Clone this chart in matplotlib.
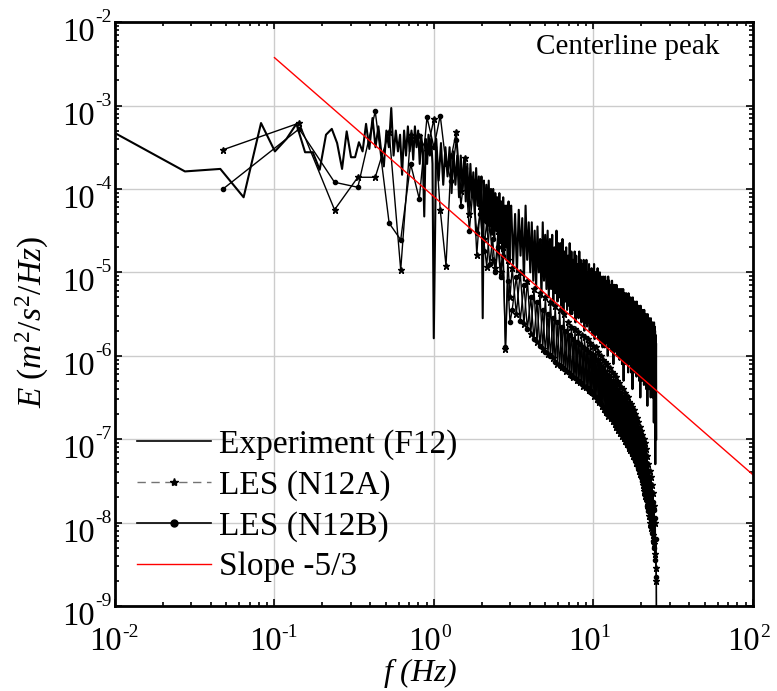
import numpy as np
import matplotlib
matplotlib.use("Agg")
import matplotlib.pyplot as plt
from matplotlib.lines import Line2D
from matplotlib.ticker import LogLocator, NullFormatter

plt.rcParams['font.family'] = ['Liberation Serif', 'DejaVu Serif']
plt.rcParams['mathtext.fontset'] = 'custom'
plt.rcParams['mathtext.rm'] = 'Liberation Serif'
plt.rcParams['mathtext.it'] = 'Liberation Serif:italic'

# Experiment (F12): log10 E, three frequency blocks
exp_f0 = [0.00915, 1.0335, 3.05]
exp_df = [0.0183, 0.0366, 0.088]
exp_seg1 = [-3.29, -3.79, -3.76, -4.10, -3.21, -3.55, -3.40, -3.22, -3.56, -3.56,
            -3.77, -3.35, -3.28, -3.45, -3.76, -3.31, -3.62, -3.62, -3.44, -3.55,
            -3.22, -3.52, -3.15, -3.50, -3.25, -3.55, -3.73, -3.30, -3.50, -3.03,
            -3.60, -3.30, -3.55, -3.35, -3.83, -3.30, -3.60, -3.25, -3.55, -3.30,
            -3.65, -3.25, -3.50, -3.30, -3.70, -3.35, -3.60, -4.33, -3.40, -3.70,
            -3.35, -3.60, -3.40, -3.70, -5.79]
exp_seg2 = [-3.40, -3.90, -3.45, -3.95, -3.50, -3.85, -3.50, -4.05, -3.55, -3.95,
            -3.60, -4.10, -3.60, -4.00, -3.65, -4.15, -3.70, -4.20, -3.70, -4.10,
            -3.80, -4.30, -3.75, -4.20, -3.85, -4.35, -3.85, -5.55, -3.90, -4.40,
            -3.95, -4.50, -3.90, -4.45, -4.00, -4.55, -4.00, -4.60, -4.05, -4.50,
            -4.10, -4.70, -4.05, -4.65, -4.15, -4.75, -4.10, -4.80, -4.20, -4.70,
            -4.20, -4.85, -4.15, -4.90, -4.25]
exp_seg3 = [-4.2, -4.9, -4.3, -5.0, -4.25, -4.8, -4.35, -5.1, -4.2, -4.85, -4.4, -5.0,
            -4.4, -5.1, -4.5, -5.2, -4.45, -5.0, -4.6, -5.3, -4.4, -5.1, -4.55, -5.2,
            -4.5, -5.3, -4.6, -5.2, -4.55, -5.4, -4.7, -5.25, -4.5, -5.35, -4.65, -5.3,
            -4.65, -5.4, -4.6, -5.5, -4.75, -5.35, -4.7, -5.45, -4.8, -5.4, -4.65, -5.5,
            -4.75, -5.5, -4.85, -5.45, -4.75, -5.6, -4.8, -5.5, -4.9, -5.55, -4.75, -5.5,
            -4.85, -5.6, -4.9, -5.55, -4.85, -5.7, -4.95, -5.6, -4.85, -5.65, -5.0, -5.6,
            -4.9, -5.7, -5.0, -5.65, -4.95, -5.75, -5.05, -5.7, -4.9, -5.8, -5.0, -5.7,
            -5.0, -5.75, -4.95, -5.8, -5.1, -5.7, -5.0, -5.85, -5.05, -5.75, -5.1, -5.9,
            -5.05, -5.8, -5.1, -5.9, -5.05, -5.85, -5.15, -5.8, -5.1, -6.0, -5.05, -5.85,
            -5.1, -5.9, -5.15, -5.85, -5.2, -5.95, -5.1, -5.9, -5.25, -6.1, -5.15, -5.9,
            -5.15, -5.95, -5.2, -5.9, -5.15, -6.0, -5.25, -5.95, -5.2, -5.9, -5.3, -6.05,
            -5.2, -6.0, -5.25, -5.95, -5.2, -6.1, -5.3, -6.0, -5.2, -6.3, -5.25, -6.0,
            -5.25, -6.0, -5.3, -6.1, -5.25, -6.05, -5.35, -6.0, -5.3, -6.2, -5.25, -6.05,
            -5.3, -6.1, -5.35, -6.05, -5.3, -6.2, -5.4, -6.1, -5.35, -6.4, -5.3, -6.1,
            -5.35, -6.1, -5.4, -6.2, -5.35, -6.15, -5.45, -6.1, -5.4, -6.25, -5.35, -6.15,
            -5.4, -6.2, -5.45, -6.15, -5.4, -6.3, -5.5, -6.2, -5.45, -6.5, -5.4, -6.2,
            -5.45, -6.2, -5.5, -6.3, -5.45, -6.25, -5.55, -6.2, -5.5, -6.35, -5.45, -6.25,
            -5.5, -6.3, -5.55, -6.25, -5.5, -6.4, -5.6, -6.3, -5.55, -6.6, -5.5, -6.3,
            -5.55, -6.3, -5.6, -6.4, -5.55, -6.35, -5.65, -6.3, -5.6, -6.5, -5.55, -6.35,
            -5.6, -6.4, -5.65, -6.35, -5.6, -6.5, -5.7, -6.4, -5.65, -6.8, -5.6, -6.4,
            -5.65, -6.5, -5.7, -7.3, -5.75, -6.6, -5.85, -7.0]

# LES spectra: log10 E, low block on the native grid, high block every other bin
les_f0 = [0.0476, 3.094]
les_df = [0.0952, 0.1904]
n12a_low = [-3.53, -3.21, -4.25, -3.86, -3.86, -3.32, -4.97, -3.35, -3.37, -3.55,
            -3.16, -4.25, -4.92, -3.61, -3.32, -4.03, -3.63, -4.30, -3.90, -4.79,
            -4.20, -4.60, -4.93, -4.40, -4.85, -4.95, -4.50, -5.00, -4.70, -5.92,
            -4.85, -5.30]
n12b_low = [-4.00, -3.28, -3.92, -3.98, -3.07, -4.41, -4.61, -3.70, -4.12, -3.14,
            -3.50, -3.12, -3.70, -3.90, -3.41, -4.20, -3.75, -4.50, -4.00, -4.53,
            -4.30, -4.75, -4.40, -4.90, -4.60, -5.00, -4.70, -5.05, -4.80, -5.90,
            -5.10, -5.60]
n12a_high = [-4.95, -5.5, -5.0, -5.62, -5.1, -5.74, -5.2, -5.84, -5.25, -5.92,
             -5.3, -5.98, -5.35, -6.03, -5.4, -6.1, -5.45, -6.13, -5.5, -6.18,
             -5.6, -6.22, -5.65, -6.25, -5.68, -6.29, -5.72, -6.32, -5.75, -6.36,
             -5.78, -6.38, -5.8, -6.41, -5.85, -6.44, -5.88, -6.48, -5.9, -6.52,
             -5.95, -6.56, -6.0, -6.6, -6.05, -6.64, -6.08, -6.68, -6.1, -6.72,
             -6.15, -6.75, -6.2, -6.78, -6.22, -6.82, -6.25, -6.85, -6.3, -6.89,
             -6.33, -6.93, -6.38, -6.96, -6.4, -6.99, -6.45, -7.02, -6.48, -7.06,
             -6.5, -7.1, -6.55, -7.13, -6.58, -7.16, -6.62, -7.2, -6.65, -7.24,
             -6.7, -7.28, -6.75, -7.33, -6.8, -7.38, -6.85, -7.42, -6.9, -7.48,
             -6.95, -7.55, -7.0, -7.62, -7.05, -7.68, -7.12, -7.75, -7.2, -7.84,
             -7.3, -7.92, -7.38, -8.0, -7.45, -8.07, -7.55, -8.15, -7.65, -8.26,
             -7.8, -8.38, -8.0, -8.55, -8.7, -11.0]
n12b_high = [-5.45, -5.05, -5.58, -5.15, -5.68, -5.3, -5.8, -5.35, -5.88, -5.45,
             -5.95, -5.5, -6.0, -5.55, -6.07, -5.6, -6.12, -5.65, -6.16, -5.7,
             -6.2, -5.75, -6.24, -5.8, -6.27, -5.83, -6.3, -5.86, -6.34, -5.9,
             -6.37, -5.92, -6.4, -5.95, -6.43, -5.98, -6.46, -6.02, -6.5, -6.05,
             -6.54, -6.1, -6.58, -6.14, -6.62, -6.18, -6.66, -6.22, -6.7, -6.25,
             -6.73, -6.3, -6.76, -6.33, -6.8, -6.36, -6.84, -6.4, -6.87, -6.43,
             -6.9, -6.47, -6.94, -6.5, -6.97, -6.53, -7.0, -6.56, -7.04, -6.6,
             -7.07, -6.63, -7.11, -6.67, -7.14, -6.7, -7.18, -6.74, -7.22, -6.78,
             -7.25, -6.82, -7.3, -6.87, -7.35, -6.92, -7.4, -6.97, -7.45, -7.02,
             -7.5, -7.08, -7.58, -7.15, -7.65, -7.22, -7.72, -7.3, -7.8, -7.38,
             -7.86, -7.45, -7.95, -7.55, -8.04, -7.65, -8.12, -7.75, -8.22, -7.85,
             -8.3, -7.95, -8.45, -8.2, -8.65, -11.0]

# -5/3 reference line end points
slope_f = [0.1, 100.0]
slope_E = [3.75e-3, 3.75e-8]

# decade exponents used as tick labels
x_exps = [-2, -1, 0, 1, 2]
y_exps = [-9, -8, -7, -6, -5, -4, -3, -2]


def grid(f0, df, vals):
    return f0 + df * np.arange(len(vals))


exp_f = np.concatenate([grid(exp_f0[i], exp_df[i], s)
                        for i, s in enumerate([exp_seg1, exp_seg2, exp_seg3])])
exp_E = 10.0 ** np.concatenate([exp_seg1, exp_seg2, exp_seg3])
les_f = np.concatenate([grid(les_f0[0], les_df[0], n12a_low),
                        grid(les_f0[1], les_df[1], n12a_high)])
n12a_E = 10.0 ** np.concatenate([n12a_low, n12a_high])
n12b_E = 10.0 ** np.concatenate([n12b_low, n12b_high])

fig = plt.figure(figsize=(7.77, 6.91), dpi=100)
ax = fig.add_axes([0.148, 0.123, 0.821, 0.845])

ax.plot(exp_f, exp_E, color='k', lw=1.5)
ax.plot(les_f, n12a_E, color='k', lw=1.0, marker='*', ms=4.5)
ax.plot(les_f, n12b_E, color='k', lw=1.0, marker='o', ms=3)
ax.plot(slope_f, slope_E, color='red', lw=1.0)

ax.set_xscale('log')
ax.set_yscale('log')
ax.set_xlim(1e-2, 1e2)
ax.set_ylim(1e-9, 1e-2)

ax.xaxis.set_major_locator(LogLocator(base=10, numticks=10))
ax.yaxis.set_major_locator(LogLocator(base=10, numticks=10))
ax.xaxis.set_minor_locator(LogLocator(base=10, subs=np.arange(2, 10), numticks=20))
ax.yaxis.set_minor_locator(LogLocator(base=10, subs=np.arange(2, 10), numticks=20))
for a in (ax.xaxis, ax.yaxis):
    a.set_major_formatter(NullFormatter())
    a.set_minor_formatter(NullFormatter())
ax.tick_params(which='both', direction='in', top=True, right=True, width=1.2)
ax.tick_params(which='major', length=5)
ax.tick_params(which='minor', length=3)
ax.grid(True, which='major', color='#cccccc', lw=1.0)
ax.set_axisbelow(True)
for s in ax.spines.values():
    s.set_linewidth(2)

# MATLAB-like "10" with a raised hyphen exponent
base_kw = dict(fontsize=23.5, textcoords='offset pixels', va='baseline',
               annotation_clip=False)
sup_kw = dict(fontsize=14, textcoords='offset pixels', va='baseline',
              annotation_clip=False)
for e in y_exps:
    xy = (0, 10.0 ** e)
    ax.annotate('10', xy=xy, xycoords=('axes fraction', 'data'),
                xytext=(-20, -19), ha='right', **base_kw)
    ax.annotate('%d' % e, xy=xy, xycoords=('axes fraction', 'data'),
                xytext=(-20, 0), ha='left', **sup_kw)
for e in x_exps:
    xy = (10.0 ** e, 0)
    ax.annotate('10', xy=xy, xycoords=('data', 'axes fraction'),
                xytext=(7, -44), ha='right', **base_kw)
    ax.annotate('%d' % e, xy=xy, xycoords=('data', 'axes fraction'),
                xytext=(7, -31), ha='left', **sup_kw)

ax.set_xlabel(r'$f\ $(Hz)', fontsize=23)
ax.xaxis.set_label_coords(0.478, -0.086)
ax.set_ylabel(r'$E\ (m^2/s^2/Hz)$', fontsize=24)
ax.yaxis.set_label_coords(-0.1, 0.487)
ax.xaxis.label.set_style('italic')

ax.text(0.948, 0.957, 'Centerline peak', transform=ax.transAxes,
        ha='right', va='center', fontsize=21)

handles = [Line2D([], [], color='k', lw=1.2),
           Line2D([], [], color='0.45', lw=1.0, ls=(0, (6, 4)), marker='*', ms=6,
                  mfc='k', mec='k'),
           Line2D([], [], color='k', lw=1.2, marker='o', ms=5),
           Line2D([], [], color='red', lw=1.0)]
labels = ['Experiment (F12)', 'LES (N12A)', 'LES (N12B)', 'Slope -5/3']
ax.legend(handles, labels, loc='lower left', bbox_to_anchor=(0.03, 0.035),
          borderaxespad=0, frameon=False, fontsize=24, handlelength=2.2,
          handletextpad=0.25, labelspacing=0.3, borderpad=0.1)

fig.savefig('out.png', dpi=100)
